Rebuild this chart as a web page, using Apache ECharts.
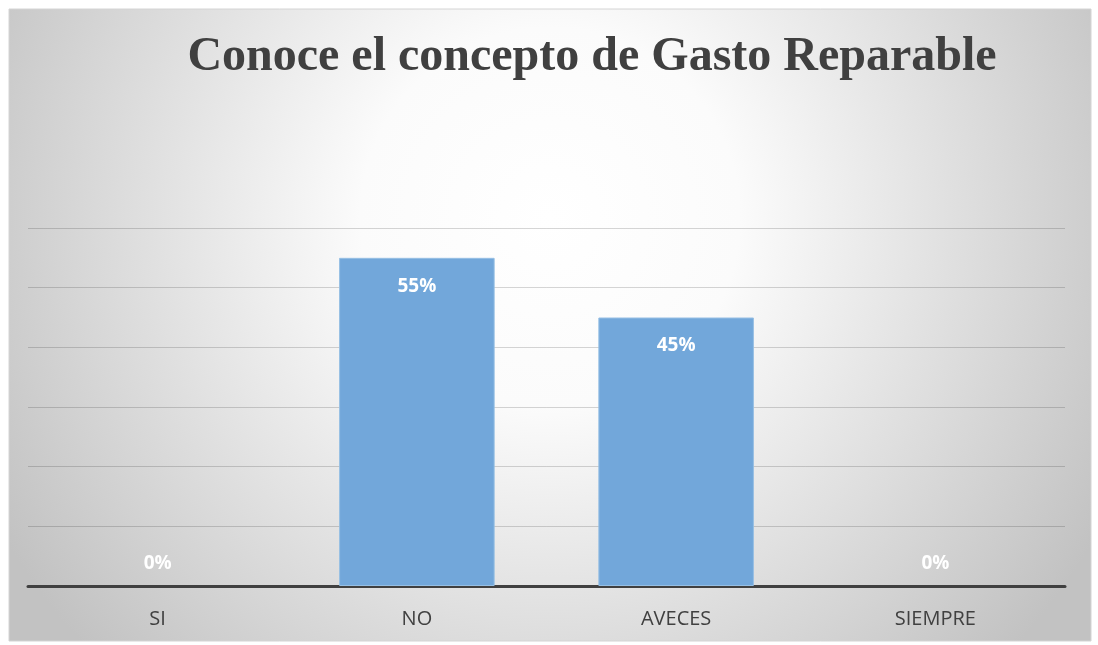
<!DOCTYPE html>
<html>
<head>
<meta charset="utf-8">
<script src="https://cdn.jsdelivr.net/npm/echarts@6/dist/echarts.min.js"></script>
<style>
  html, body { margin: 0; padding: 0; background: #ffffff; }
  #chart { width: 1098px; height: 645px; }
</style>
</head>
<body>
<div id="chart"></div>
<script>
var titulo = "Conoce el concepto de Gasto Reparable";
var categorias = ["SI", "NO", "AVECES", "SIEMPRE"];
var valores = [0, 0.55, 0.45, 0];
var etiquetas = ["0%", "55%", "45%", "0%"];

var chart = echarts.init(document.getElementById("chart"));

// barras en cero: etiqueta encima del eje, sin borde
var datos = valores.map(function(v, i) {
	var item = { value: v, label: { formatter: etiquetas[i] } };
	if (v === 0) {
		item.label.position = "top";
		item.label.distance = 13;
		item.itemStyle = { borderWidth: 0, color: "rgba(0,0,0,0)" };
	}
	return item;
});

var option = {
	backgroundColor: "#ffffff",
	graphic: [{
		type: "rect",
		z: -10,
		shape: { x: 9, y: 9, width: 1082, height: 632 },
		style: {
			fill: {
				type: "radial", x: 0.5, y: 0.33, r: 1,
				colorStops: [
					{ offset: 0, color: "#ffffff" },
					{ offset: 0.3, color: "#fbfbfb" },
					{ offset: 1, color: "#c2c2c2" }
				]
			},
			stroke: "#d4d4d4",
			lineWidth: 1
		}
	}],
	title: {
		text: titulo,
		left: 587,
		top: 29,
		textAlign: "center",
		textStyle: {
			fontFamily: "Liberation Serif",
			fontWeight: "bold",
			fontSize: 48,
			color: "#404040"
		}
	},
	grid: { left: 28, right: 33, top: 228, bottom: 59 },
	xAxis: {
		type: "category",
		data: categorias,
		axisLine: { lineStyle: { color: "#404040", width: 3 } },
		axisTick: { show: false },
		axisLabel: {
			margin: 23,
			fontFamily: "Open Sans",
			fontSize: 20,
			color: "#404040"
		}
	},
	yAxis: {
		type: "value",
		min: 0,
		max: 0.6,
		interval: 0.1,
		axisLabel: { show: false },
		axisLine: { show: false },
		axisTick: { show: false },
		splitLine: { lineStyle: { color: "rgba(0,0,0,0.16)", width: 1 } }
	},
	series: [{
		type: "bar",
		data: datos,
		barCategoryGap: "40%",
		itemStyle: {
			color: "#72a7da",
			borderColor: "#96bfe4",
			borderWidth: 1
		},
		label: {
			show: true,
			position: "insideTop",
			distance: 19,
			color: "#ffffff",
			fontFamily: "Open Sans",
			fontWeight: "bold",
			fontSize: 19
		}
	}]
};
chart.setOption(option);
</script>
</body>
</html>
